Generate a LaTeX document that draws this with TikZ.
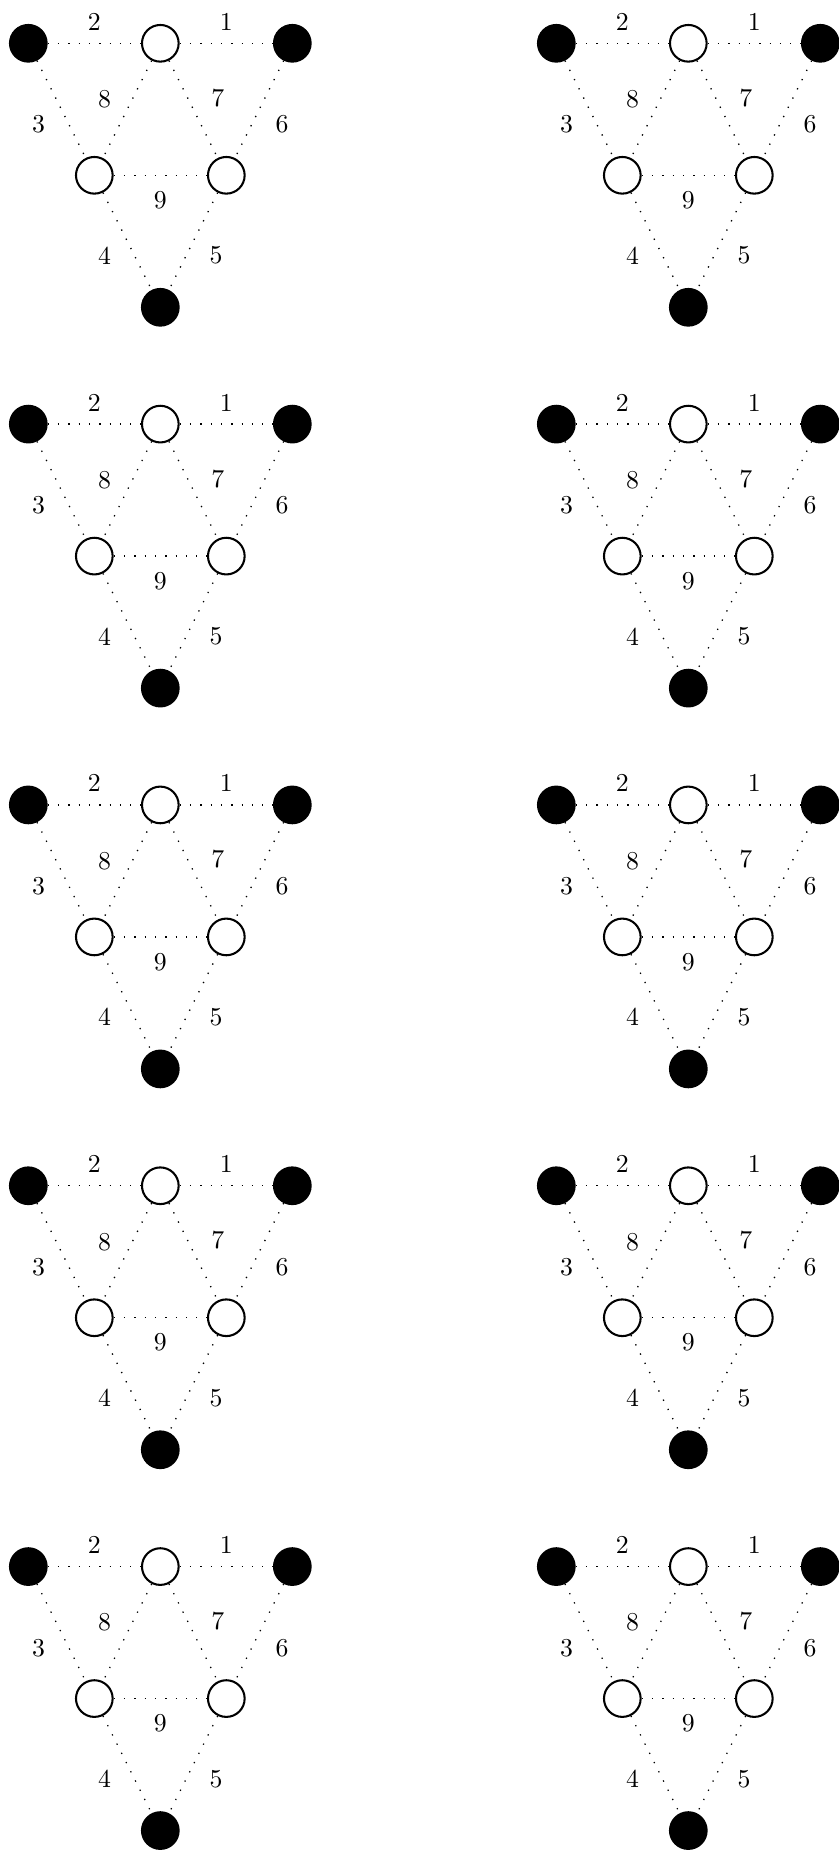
\documentclass[tikz,border=0pt]{standalone}
\usepackage{amsmath,amssymb}
\newdimen\unitsize
\setlength{\unitsize}{0.9cm}

\begin{document}
\begin{tikzpicture}[x=\unitsize,y=\unitsize]
\tikzset{fullvertex/.style={circle,draw,fill=black,thick,minimum size=0.5cm,inner sep=0pt}}%
\tikzset{emptyvertex/.style={circle,draw,fill=white,thick,minimum size=0.5cm,inner sep=0pt}}%
\tikzset{dotedge/.style={line width=0.5pt,dash pattern=on 0.5pt off 3.5pt}}%
\tikzset{lab/.style={inner sep=0pt,midway}}%
\useasboundingbox (-0.429,0.656) rectangle (12.283,-27.405);
\foreach \r in {0,...,4} {
\foreach \c in {0,1} {
\begin{scope}[shift={(8*\c,-5.77*\r)}]
\node[fullvertex] (tl\r\c) at (0,0) {};
\node[emptyvertex] (tm\r\c) at (2,0) {};
\node[fullvertex] (tr\r\c) at (4,0) {};
\node[emptyvertex] (ml\r\c) at (1,-2) {};
\node[emptyvertex] (mr\r\c) at (3,-2) {};
\node[fullvertex] (bm\r\c) at (2,-4) {};
\draw[dotedge] (tm\r\c) -- node[lab,yshift=0.295cm] (e1\r\c) {1} (tr\r\c);
\draw[dotedge] (tl\r\c) -- node[lab,yshift=0.295cm] (e2\r\c) {2} (tm\r\c);
\draw[dotedge] (tl\r\c) -- node[lab,xshift=-0.31cm,yshift=-0.21cm] (e3\r\c) {3} (ml\r\c);
\draw[dotedge] (ml\r\c) -- node[lab,xshift=-0.31cm,yshift=-0.195cm] (e4\r\c) {4} (bm\r\c);
\draw[dotedge] (mr\r\c) -- node[lab,xshift=0.31cm,yshift=-0.195cm] (e5\r\c) {5} (bm\r\c);
\draw[dotedge] (tr\r\c) -- node[lab,xshift=0.31cm,yshift=-0.21cm] (e6\r\c) {6} (mr\r\c);
\draw[dotedge] (tm\r\c) -- node[lab,xshift=0.335cm,yshift=0.155cm] (e7\r\c) {7} (mr\r\c);
\draw[dotedge] (tm\r\c) -- node[lab,xshift=-0.31cm,yshift=0.135cm] (e8\r\c) {8} (ml\r\c);
\draw[dotedge] (ml\r\c) -- node[lab,yshift=-0.34cm] (e9\r\c) {9} (mr\r\c);
\end{scope}
}
}
\end{tikzpicture}
\end{document}
